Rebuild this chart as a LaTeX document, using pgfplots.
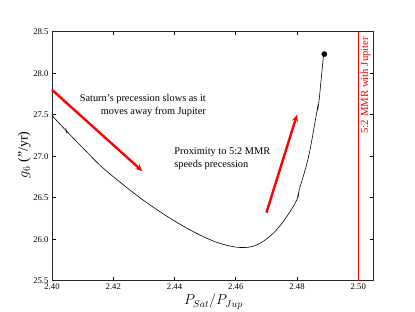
\documentclass[border=0pt]{standalone}
\usepackage{fontspec}
\setmainfont{Liberation Serif}
\usepackage{pgfplots}
\pgfplotsset{compat=1.18}
\usetikzlibrary{arrows.meta}
\begin{document}
\begin{tikzpicture}
\useasboundingbox (-52bp,-31.3bp) rectangle (363bp,280.7bp);
\begin{axis}[
 scale only axis, width=321bp, height=249bp,
 xmin=2.40, xmax=2.5048, ymin=25.5, ymax=28.5,
 axis line style={line width=0.8pt, black!85},
 tick align=inside, xtick pos=both, ytick pos=both,
 major tick length=3.5bp,
 tick style={line width=0.6pt, black},
 xtick={2.40,2.42,2.44,2.46,2.48,2.50},
 ytick={25.5,26.0,26.5,27.0,27.5,28.0,28.5},
 /pgf/number format/assume math mode=true,
 xticklabel style={/pgf/number format/.cd, fixed, fixed zerofill, precision=2},
 yticklabel style={/pgf/number format/.cd, fixed, fixed zerofill, precision=1},
 ticklabel style={font=\fontsize{8.7}{9}\selectfont},
 xlabel={$P_{Sat}/P_{Jup}$},
 xlabel style={font=\fontsize{14}{15}\selectfont, at={(axis description cs:0.503,-0.084)}, anchor=center},
 ylabel={$g_6$ ("/yr)},
 ylabel style={font=\fontsize{14}{15}\selectfont, at={(axis description cs:-0.086,0.505)}, anchor=center},
 clip=false,
]
% main curve, in pieces with the small kinks
\addplot[black, line width=0.6pt, smooth, tension=0.6] coordinates {
(2.4000,27.49) (2.4048,27.30) (2.4102,27.095) (2.4157,26.89) (2.4211,26.72)
(2.4287,26.50) (2.4353,26.33) (2.4418,26.18) (2.4483,26.05) (2.4548,25.95)
(2.4614,25.90) (2.4668,25.93) (2.4722,26.07) (2.4766,26.27) (2.4799,26.47)
(2.4804,26.55)
};
\addplot[black, line width=0.6pt] coordinates {(2.4045,27.34) (2.4048,27.28)};
\addplot[black, line width=0.6pt] coordinates {(2.4804,26.55) (2.4802,26.50) (2.4808,26.61)};
\addplot[black, line width=0.6pt, smooth, tension=0.5] coordinates {
(2.4808,26.61) (2.4826,26.83) (2.4842,27.07) (2.4864,27.52) (2.4869,27.62)
};
\addplot[black, line width=0.6pt] coordinates {(2.4869,27.62) (2.4867,27.55) (2.4872,27.67)};
\addplot[black, line width=0.6pt] coordinates {(2.4872,27.67) (2.4886,28.20) (2.4889,28.23)};
% end point
\addplot[only marks, mark=*, mark size=2.6pt, black] coordinates {(2.4889,28.23)};
% MMR line
\addplot[red, line width=0.8pt] coordinates {(2.50,25.5) (2.50,28.5)};
% arrows
\addplot[red, line width=2.4pt, -{Stealth[length=7pt,width=6pt]}] coordinates {(2.4000,27.80) (2.4295,26.82)};
\addplot[red, line width=2.4pt, -{Stealth[length=7pt,width=6pt]}] coordinates {(2.4700,26.32) (2.4800,27.50)};
% texts
\node[anchor=east, align=right, font=\fontsize{10.4}{13}\selectfont, inner sep=0pt] at (axis cs:2.4503,27.61) {Saturn's precession slows as it\\moves away from Jupiter};
\node[anchor=west, align=left, font=\fontsize{10.4}{13}\selectfont, inner sep=0pt] at (axis cs:2.4399,26.97) {Proximity to 5:2 MMR\\speeds precession};
\node[rotate=90, anchor=east, text=red, font=\fontsize{10.8}{12}\selectfont, inner sep=0pt] at (axis cs:2.5024,28.44) {5:2 MMR with Jupiter};
\end{axis}
\end{tikzpicture}
\end{document}
